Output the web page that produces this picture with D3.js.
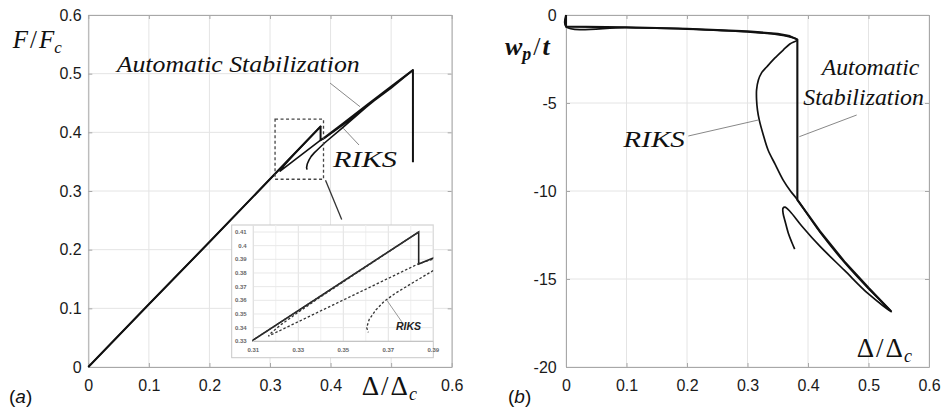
<!DOCTYPE html>
<html><head><meta charset="utf-8">
<script src="https://cdn.jsdelivr.net/npm/d3@7"></script>
<style>
body{margin:0;background:#fff}
svg{display:block}
.tick text{font-family:"Liberation Sans",Arial,sans-serif;fill:#1a1a1a}
.math{font-family:"Liberation Serif","Times New Roman",serif;fill:#111}
</style>
</head><body>
<svg id="chart" width="943" height="410"></svg>
<script>
// ---- panel (a): normalised load vs normalised end shortening ----
const autoDeltaA = [0, 0.1, 0.2, 0.31, 0.3835, 0.3835, 0.39, 0.42, 0.46, 0.50, 0.536, 0.536];
const autoLoadA  = [0, 0.107, 0.213, 0.331, 0.41, 0.3865, 0.391, 0.4145, 0.4465, 0.478, 0.506, 0.349];

const riksDeltaA = [0, 0.1, 0.2, 0.31, 0.3835, 0.34, 0.33, 0.322, 0.318, 0.3167, 0.3835, 0.39, 0.42, 0.46, 0.50, 0.536,
                    0.49, 0.459, 0.42, 0.39, 0.3805, 0.373, 0.368, 0.3645, 0.3615, 0.3604, 0.3611];
const riksLoadA  = [0, 0.107, 0.213, 0.331, 0.41, 0.3626, 0.3513, 0.3418, 0.3362, 0.3338, 0.3868, 0.3902, 0.4125, 0.4445, 0.4755, 0.506,
                    0.469, 0.443, 0.408, 0.3818, 0.3725, 0.365, 0.359, 0.353, 0.346, 0.340, 0.3365];

// ---- panel (b): normalised out-of-plane deflection vs end shortening ----
const autoDeltaB = [0, 0, 0.1, 0.2, 0.3, 0.35, 0.37, 0.3824, 0.3824, 0.42, 0.46, 0.50, 0.538];
const autoWB     = [0, -0.66, -0.70, -0.78, -0.92, -1.07, -1.2, -1.4, -10.5, -12.3, -14.0, -15.5, -16.86];

const riksDeltaB = [0, 0, 0.1, 0.2, 0.3, 0.35, 0.37, 0.3824,
                    0.370, 0.359, 0.345, 0.332, 0.323, 0.318, 0.315, 0.315, 0.3165, 0.3195, 0.326, 0.334, 0.346, 0.359, 0.371, 0.3815,
                    0.42, 0.46, 0.50, 0.538,
                    0.50, 0.46, 0.42, 0.39, 0.37, 0.362, 0.3587, 0.359, 0.362, 0.3675, 0.373, 0.378];
const riksWB     = [0, -0.66, -0.72, -0.80, -0.96, -1.11, -1.24, -1.4,
                    -1.65, -1.99, -2.45, -2.94, -3.3, -3.69, -4.25, -4.83, -5.4, -5.97, -6.8, -7.67, -8.5, -9.38, -10.0, -10.45,
                    -12.35, -14.05, -15.55, -16.86,
                    -15.85, -14.5, -13.15, -12.0, -11.15, -10.92, -10.98, -11.3, -11.7, -12.4, -12.9, -13.3];

// ---- tick values ----
const ticksX  = [0, 0.1, 0.2, 0.3, 0.4, 0.5, 0.6];
const labelsXA = [0, 0.1, 0.2, 0.3, 0.4, 0.6];   // 0.5 gives way to the axis title in panel (a)
const ticksYA = [0, 0.1, 0.2, 0.3, 0.4, 0.5, 0.6];
const ticksYB = [0, -5, -10, -15, -20];
const insetTicksX = [0.31, 0.33, 0.35, 0.37, 0.39];
const insetGridX  = [0.31, 0.32, 0.33, 0.34, 0.35, 0.36, 0.37, 0.38, 0.39];
const insetTicksY = [0.33, 0.34, 0.35, 0.36, 0.37, 0.38, 0.39, 0.4, 0.41];

const svg = d3.select("#chart");

const xA = d3.scaleLinear([0, 0.6], [88.3, 451.7]);
const yA = d3.scaleLinear([0, 0.6], [367, 15]);
const xB = d3.scaleLinear([0, 0.6], [566, 929]);
const yB = d3.scaleLinear([-20, 0], [367, 15]);

const zip = (a, b) => a.map((v, i) => [v, b[i]]);

function frame(x, y, tx, ty, xLabels, padLeft) {
  const g = svg.append("g");
  const [x0, x1] = x.range(), [y0, y1] = y.range();
  g.append("g").selectAll("line").data(tx).join("line")
    .attr("x1", d => x(d)).attr("x2", d => x(d)).attr("y1", y0).attr("y2", y1)
    .attr("stroke", "#e4e4e4").attr("stroke-width", 1);
  g.append("g").selectAll("line").data(ty).join("line")
    .attr("y1", d => y(d)).attr("y2", d => y(d)).attr("x1", x0).attr("x2", x1)
    .attr("stroke", "#e4e4e4").attr("stroke-width", 1);
  const ax = (gen, tr) => {
    const a = g.append("g").attr("transform", tr).call(gen);
    a.select(".domain").attr("stroke", "#a8a8a8");
    a.selectAll(".tick line").attr("stroke", "#a8a8a8");
    a.selectAll(".tick text").attr("font-size", 16);
    return a;
  };
  ax(d3.axisBottom(x).tickValues(tx).tickSize(-4).tickPadding(13)
       .tickFormat(d => xLabels.includes(d) ? String(d) : "").tickSizeOuter(0), `translate(0,${y0})`);
  ax(d3.axisLeft(y).tickValues(ty).tickSize(-4).tickPadding(padLeft).tickFormat(d => String(d)).tickSizeOuter(0), `translate(${x0},0)`);
  ax(d3.axisTop(x).tickValues(tx).tickSize(-4).tickFormat("").tickSizeOuter(0), `translate(0,${y1})`);
  ax(d3.axisRight(y).tickValues(ty).tickSize(-4).tickFormat("").tickSizeOuter(0), `translate(${x1},0)`);
  return g;
}

function deltaLabel(x, y) {
  const u = svg.append("text").attr("class", "math").attr("x", x).attr("y", y).attr("font-size", 27);
  u.append("tspan").text("Δ");
  u.append("tspan").attr("dx", 2).text("/");
  u.append("tspan").attr("dx", 2).text("Δ");
  u.append("tspan").attr("font-style", "italic").attr("font-size", 18).attr("dx", 1).attr("dy", 5).text("c");
}

// ================= panel (a) =================
frame(xA, yA, ticksX, ticksYA, labelsXA, 6.6);
const lineA = d3.line().x(d => xA(d[0])).y(d => yA(d[1]));
svg.append("path").attr("d", lineA(zip(riksDeltaA, riksLoadA)))
  .attr("fill", "none").attr("stroke", "#111").attr("stroke-width", 1.6).attr("stroke-linejoin", "round");
svg.append("path").attr("d", lineA(zip(autoDeltaA, autoLoadA)))
  .attr("fill", "none").attr("stroke", "#111").attr("stroke-width", 2).attr("stroke-linejoin", "round");

// zoom box and connector
svg.append("rect").attr("x", xA(0.31) - 1).attr("y", yA(0.4225))
  .attr("width", xA(0.39) - xA(0.31)).attr("height", yA(0.32) - yA(0.4225))
  .attr("fill", "none").attr("stroke", "#444").attr("stroke-width", 1.3).attr("stroke-dasharray", "3,2.5");
svg.append("line").attr("x1", xA(0.39) + 1).attr("y1", yA(0.32) + 1).attr("x2", 341.7).attr("y2", 219.5)
  .attr("stroke", "#333").attr("stroke-width", 1.3);

// annotations
svg.append("line").attr("x1", 330).attr("y1", 83).attr("x2", 360).attr("y2", 106.7).attr("stroke", "#888").attr("stroke-width", 1);
svg.append("line").attr("x1", 343.3).attr("y1", 128.3).attr("x2", 359).attr("y2", 145).attr("stroke", "#888").attr("stroke-width", 1);
svg.append("text").attr("class", "math").attr("x", 116.7).attr("y", 72).attr("font-size", 24).attr("font-style", "italic")
  .attr("textLength", 243).attr("lengthAdjust", "spacingAndGlyphs").text("Automatic Stabilization");
svg.append("text").attr("class", "math").attr("x", 333).attr("y", 166.7).attr("font-size", 24).attr("font-style", "italic")
  .attr("textLength", 64).attr("lengthAdjust", "spacingAndGlyphs").text("RIKS");

// axis titles (a)
{
  const t = svg.append("text").attr("class", "math").attr("x", 12.7).attr("y", 48).attr("font-size", 25);
  t.append("tspan").attr("font-style", "italic").text("F");
  t.append("tspan").attr("dx", 2).text("/");
  t.append("tspan").attr("font-style", "italic").attr("dx", 2).text("F");
  t.append("tspan").attr("font-style", "italic").attr("font-size", 17).attr("dy", 5).text("c");
}
deltaLabel(361.7, 395);
svg.append("text").attr("x", 9).attr("y", 403).attr("font-family", "Liberation Sans, Arial, sans-serif")
  .attr("font-size", 19).attr("fill", "#111").html('(<tspan font-style="italic">a</tspan>)');

// ---- inset: close-up of the first snap ----
const xI = d3.scaleLinear([0.31, 0.39], [253.3, 433.3]);
const yI = d3.scaleLinear([0.33, 0.41], [341.3, 232]);
const inset = svg.append("g");
inset.append("rect").attr("x", 231.7).attr("y", 225).attr("width", 433.3 - 231.7).attr("height", 357.7 - 225)
  .attr("fill", "#fff").attr("stroke", "#c8c8c8").attr("stroke-width", 1);
inset.append("g").selectAll("line").data(insetGridX).join("line")
  .attr("x1", d => xI(d)).attr("x2", d => xI(d)).attr("y1", 225).attr("y2", yI(0.33))
  .attr("stroke", d => insetTicksX.includes(d) ? "#e2e2e2" : "#f0f0f0");
inset.append("g").selectAll("line").data(insetTicksY).join("line")
  .attr("y1", d => yI(d)).attr("y2", d => yI(d)).attr("x1", xI(0.31)).attr("x2", 433.3)
  .attr("stroke", "#e8e8e8");
inset.append("line").attr("x1", xI(0.31)).attr("x2", 433.3).attr("y1", yI(0.33)).attr("y2", yI(0.33)).attr("stroke", "#bbb");
inset.append("line").attr("x1", xI(0.31)).attr("x2", xI(0.31)).attr("y1", 225).attr("y2", yI(0.33)).attr("stroke", "#e0e0e0");
inset.append("g").selectAll("text").data(insetTicksY).join("text")
  .attr("x", 246.7).attr("y", d => yI(d) + 2).attr("text-anchor", "end")
  .attr("font-family", "Liberation Sans, Arial, sans-serif").attr("font-size", 6).attr("font-weight", "bold").attr("fill", "#666")
  .text(d => String(d));
inset.append("g").selectAll("text").data(insetTicksX).join("text")
  .attr("x", d => xI(d)).attr("y", 352.3).attr("text-anchor", "middle")
  .attr("font-family", "Liberation Sans, Arial, sans-serif").attr("font-size", 6).attr("font-weight", "bold").attr("fill", "#666")
  .text(d => String(d));
svg.append("clipPath").attr("id", "insetClip").append("rect")
  .attr("x", xI(0.31) - 1).attr("y", 226).attr("width", xI(0.39) - xI(0.31) + 1).attr("height", yI(0.33) - 226 + 1);
const lineI = d3.line().x(d => xI(d[0])).y(d => yI(d[1]));
const ig = inset.append("g").attr("clip-path", "url(#insetClip)");
ig.append("path").attr("d", lineI(zip(autoDeltaA, autoLoadA)))
  .attr("fill", "none").attr("stroke", "#222").attr("stroke-width", 1.6);
ig.append("path").attr("d", lineI(zip(riksDeltaA, riksLoadA)))
  .attr("fill", "none").attr("stroke", "#333").attr("stroke-width", 1.3).attr("stroke-dasharray", "2.5,2");
inset.append("line").attr("x1", 386.7).attr("y1", 300).attr("x2", 401.7).attr("y2", 321.7).attr("stroke", "#999");
inset.append("text").attr("x", 396).attr("y", 330).attr("font-family", "Liberation Sans, Arial, sans-serif")
  .attr("font-size", 10.5).attr("font-weight", "bold").attr("font-style", "italic").attr("fill", "#222").text("RIKS");

// ================= panel (b) =================
frame(xB, yB, ticksX, ticksYB, ticksX, 9.3);
const lineB = d3.line().x(d => xB(d[0])).y(d => yB(d[1])).curve(d3.curveCatmullRom.alpha(0.5));
const lineBlin = d3.line().x(d => xB(d[0])).y(d => yB(d[1]));
svg.append("path").attr("d", lineB(zip(riksDeltaB, riksWB)))
  .attr("fill", "none").attr("stroke", "#111").attr("stroke-width", 1.7).attr("stroke-linejoin", "round");
svg.append("path").attr("d", lineBlin(zip(autoDeltaB, autoWB)))
  .attr("fill", "none").attr("stroke", "#111").attr("stroke-width", 2.1).attr("stroke-linejoin", "round");

svg.append("line").attr("x1", 856.7).attr("y1", 115).attr("x2", 799.3).attr("y2", 136.7).attr("stroke", "#888");
svg.append("line").attr("x1", 688.3).attr("y1", 136).attr("x2", 758.3).attr("y2", 120).attr("stroke", "#888");
svg.append("text").attr("class", "math").attr("x", 821.7).attr("y", 75).attr("font-size", 24).attr("font-style", "italic")
  .attr("textLength", 97.6).attr("lengthAdjust", "spacingAndGlyphs").text("Automatic");
svg.append("text").attr("class", "math").attr("x", 803.3).attr("y", 105).attr("font-size", 24).attr("font-style", "italic")
  .attr("textLength", 120.7).attr("lengthAdjust", "spacingAndGlyphs").text("Stabilization");
svg.append("text").attr("class", "math").attr("x", 623.3).attr("y", 146.7).attr("font-size", 24).attr("font-style", "italic")
  .attr("textLength", 61.7).attr("lengthAdjust", "spacingAndGlyphs").text("RIKS");

{
  const t = svg.append("text").attr("class", "math").attr("x", 505).attr("y", 55).attr("font-size", 26)
    .attr("font-weight", "bold");
  t.append("tspan").attr("font-style", "italic").text("w");
  t.append("tspan").attr("font-style", "italic").attr("font-size", 18).attr("dy", 5).text("p");
  t.append("tspan").attr("dy", -5).attr("dx", 2).attr("font-weight", "normal").text("/");
  t.append("tspan").attr("font-style", "italic").attr("dx", 2).text("t");
}
deltaLabel(856.7, 356.7);
svg.append("text").attr("x", 508).attr("y", 403).attr("font-family", "Liberation Sans, Arial, sans-serif")
  .attr("font-size", 19).attr("fill", "#111").html('(<tspan font-style="italic">b</tspan>)');
</script>
</body></html>
